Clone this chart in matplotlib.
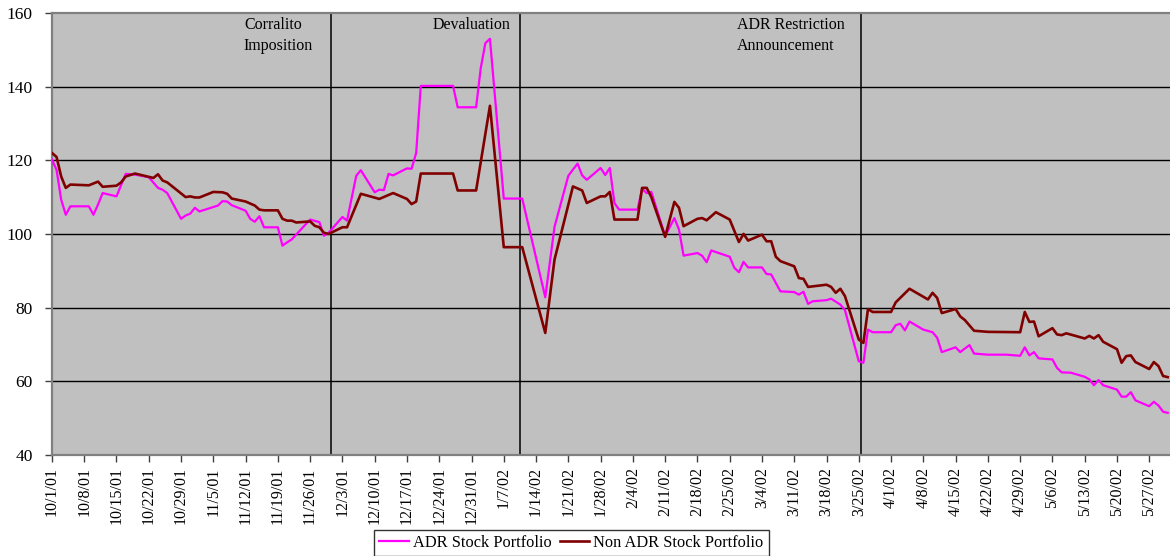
import datetime as dt
import pandas as pd
import matplotlib
matplotlib.use("Agg")
import matplotlib.pyplot as plt
import matplotlib.dates as mdates

# ---- data (index values) ----
adr_dates = [
    "10/1/01", "10/2/01", "10/3/01", "10/4/01", "10/5/01", "10/9/01", "10/10/01", "10/11/01",
    "10/12/01", "10/15/01", "10/17/01", "10/19/01", "10/22/01", "10/24/01", "10/25/01", "10/26/01",
    "10/29/01", "10/30/01", "10/31/01", "11/1/01", "11/2/01", "11/6/01", "11/7/01", "11/8/01",
    "11/9/01", "11/12/01", "11/13/01", "11/14/01", "11/15/01", "11/16/01", "11/19/01", "11/20/01",
    "11/21/01", "11/22/01", "11/26/01", "11/28/01", "11/29/01", "11/30/01", "12/3/01", "12/4/01",
    "12/6/01", "12/7/01", "12/10/01", "12/11/01", "12/12/01", "12/13/01", "12/14/01", "12/17/01",
    "12/18/01", "12/19/01", "12/20/01", "12/27/01", "12/28/01", "1/1/02", "1/2/02", "1/3/02",
    "1/4/02", "1/7/02", "1/11/02", "1/16/02", "1/18/02", "1/21/02", "1/23/02", "1/24/02",
    "1/25/02", "1/28/02", "1/29/02", "1/30/02", "1/31/02", "2/1/02", "2/5/02", "2/6/02",
    "2/7/02", "2/8/02", "2/11/02", "2/13/02", "2/14/02", "2/15/02", "2/18/02", "2/19/02",
    "2/20/02", "2/21/02", "2/25/02", "2/26/02", "2/27/02", "2/28/02", "3/1/02", "3/4/02",
    "3/5/02", "3/6/02", "3/8/02", "3/11/02", "3/12/02", "3/13/02", "3/14/02", "3/15/02",
    "3/18/02", "3/19/02", "3/21/02", "3/22/02", "3/25/02", "3/26/02", "3/27/02", "3/28/02",
    "4/1/02", "4/2/02", "4/3/02", "4/4/02", "4/5/02", "4/8/02", "4/10/02", "4/11/02",
    "4/12/02", "4/15/02", "4/16/02", "4/18/02", "4/19/02", "4/22/02", "4/26/02", "4/29/02",
    "4/30/02", "5/1/02", "5/2/02", "5/3/02", "5/6/02", "5/7/02", "5/8/02", "5/10/02",
    "5/13/02", "5/14/02", "5/15/02", "5/16/02", "5/17/02", "5/20/02", "5/21/02", "5/22/02",
    "5/23/02", "5/24/02", "5/27/02", "5/28/02", "5/29/02", "5/30/02", "5/31/02",
]
adr_values = [
    120.2, 117.4, 109.3, 105.2, 107.5, 107.5, 105.2, 108.0,
    111.1, 110.2, 116.3, 116.1, 115.4, 112.5, 112.0, 111.1,
    104.1, 105.0, 105.5, 107.1, 106.1, 107.7, 108.9, 108.8,
    107.8, 106.3, 104.1, 103.3, 104.8, 101.8, 101.8, 96.8,
    97.7, 98.5, 103.9, 103.2, 99.5, 100.3, 104.6, 103.6,
    115.8, 117.3, 111.3, 112.0, 111.9, 116.3, 115.9, 117.8,
    117.7, 122.0, 140.2, 140.2, 134.4, 134.4, 145.0, 151.8,
    153.0, 109.6, 109.6, 82.8, 101.9, 115.8, 119.1, 115.9,
    114.7, 117.9, 116.0, 117.9, 108.4, 106.6, 106.6, 112.2,
    111.1, 111.4, 99.4, 104.3, 101.2, 94.1, 94.8, 94.1,
    92.3, 95.5, 93.8, 90.8, 89.6, 92.4, 90.9, 90.9,
    89.1, 89.0, 84.4, 84.2, 83.5, 84.3, 81.0, 81.7,
    82.0, 82.4, 80.8, 79.3, 65.4, 65.0, 74.0, 73.3,
    73.3, 75.2, 75.6, 73.8, 76.2, 74.0, 73.3, 71.8,
    67.9, 69.2, 67.9, 69.8, 67.5, 67.2, 67.2, 66.9,
    69.2, 67.0, 67.9, 66.2, 65.9, 63.6, 62.4, 62.3,
    61.2, 60.5, 58.9, 60.3, 58.9, 57.7, 55.8, 55.8,
    57.0, 54.8, 53.2, 54.4, 53.4, 51.7, 51.4,
]

non_adr_dates = [
    "10/1/01", "10/2/01", "10/3/01", "10/4/01", "10/5/01", "10/9/01", "10/10/01", "10/11/01",
    "10/12/01", "10/15/01", "10/16/01", "10/17/01", "10/19/01", "10/23/01", "10/24/01", "10/25/01",
    "10/26/01", "10/30/01", "10/31/01", "11/1/01", "11/2/01", "11/5/01", "11/7/01", "11/8/01",
    "11/9/01", "11/12/01", "11/14/01", "11/15/01", "11/16/01", "11/19/01", "11/20/01", "11/21/01",
    "11/22/01", "11/23/01", "11/26/01", "11/27/01", "11/28/01", "11/29/01", "11/30/01", "12/3/01",
    "12/4/01", "12/7/01", "12/11/01", "12/14/01", "12/17/01", "12/18/01", "12/19/01", "12/20/01",
    "12/27/01", "12/28/01", "1/1/02", "1/4/02", "1/7/02", "1/11/02", "1/16/02", "1/18/02",
    "1/22/02", "1/24/02", "1/25/02", "1/28/02", "1/29/02", "1/30/02", "1/31/02", "2/5/02",
    "2/6/02", "2/7/02", "2/8/02", "2/11/02", "2/13/02", "2/14/02", "2/15/02", "2/18/02",
    "2/19/02", "2/20/02", "2/22/02", "2/25/02", "2/27/02", "2/28/02", "3/1/02", "3/4/02",
    "3/5/02", "3/6/02", "3/7/02", "3/8/02", "3/11/02", "3/12/02", "3/13/02", "3/14/02",
    "3/18/02", "3/19/02", "3/20/02", "3/21/02", "3/22/02", "3/25/02", "3/26/02", "3/27/02",
    "3/28/02", "4/1/02", "4/2/02", "4/5/02", "4/9/02", "4/10/02", "4/11/02", "4/12/02",
    "4/15/02", "4/16/02", "4/17/02", "4/19/02", "4/22/02", "4/29/02", "4/30/02", "5/1/02",
    "5/2/02", "5/3/02", "5/6/02", "5/7/02", "5/8/02", "5/9/02", "5/13/02", "5/14/02",
    "5/15/02", "5/16/02", "5/17/02", "5/20/02", "5/21/02", "5/22/02", "5/23/02", "5/24/02",
    "5/27/02", "5/28/02", "5/29/02", "5/30/02", "5/31/02",
]
non_adr_values = [
    122.0, 120.9, 115.6, 112.5, 113.4, 113.2, 113.7, 114.2,
    112.8, 113.1, 114.0, 115.6, 116.4, 115.2, 116.2, 114.5,
    114.0, 110.0, 110.2, 109.9, 109.9, 111.4, 111.3, 110.9,
    109.6, 108.8, 107.7, 106.6, 106.4, 106.4, 104.1, 103.6,
    103.6, 103.1, 103.4, 102.2, 101.8, 100.3, 100.0, 101.8,
    101.8, 110.9, 109.5, 111.1, 109.5, 108.1, 108.8, 116.4,
    116.4, 111.8, 111.8, 134.8, 96.4, 96.4, 73.1, 93.0,
    112.9, 111.8, 108.4, 110.2, 110.2, 111.4, 103.9, 103.9,
    112.5, 112.5, 110.0, 99.2, 108.7, 107.1, 102.1, 104.1,
    104.3, 103.7, 105.9, 103.9, 97.8, 100.0, 98.2, 99.8,
    98.0, 98.0, 93.8, 92.6, 91.2, 88.0, 87.8, 85.6,
    86.2, 85.6, 84.0, 85.1, 83.1, 71.3, 70.4, 79.6,
    78.8, 78.8, 81.4, 85.1, 82.2, 84.0, 82.6, 78.5,
    79.6, 77.6, 76.6, 73.7, 73.4, 73.3, 78.8, 76.1,
    76.2, 72.2, 74.4, 72.7, 72.5, 73.0, 71.6, 72.3,
    71.6, 72.5, 70.7, 68.7, 65.0, 66.8, 67.0, 65.2,
    63.3, 65.2, 64.1, 61.4, 61.1,
]

event_dates = ["11/30/01", "1/10/02", "3/25/02"]
event_labels = ["Corralito\nImposition", "Devaluation", "ADR Restriction\nAnnouncement"]

series_names = ["ADR Stock Portfolio", "Non ADR Stock Portfolio"]
series_colors = ["#FF00FF", "#800000"]

fmt = "%m/%d/%y"
adr_x = pd.to_datetime(adr_dates, format=fmt)
non_adr_x = pd.to_datetime(non_adr_dates, format=fmt)
events_x = pd.to_datetime(event_dates, format=fmt)

plt.rcParams["font.family"] = ["Liberation Serif", "DejaVu Serif"]

fig = plt.figure(figsize=(11.7, 5.56), dpi=100)
ax = fig.add_axes([0.0444, 0.182, 0.9556, 0.7946])
ax.set_facecolor("#C0C0C0")

# gridlines and event lines
for v in [60, 80, 100, 120, 140]:
    ax.axhline(v, color="black", lw=1.0, zorder=1)
for ex in events_x:
    ax.axvline(ex + pd.Timedelta(hours=12), color="black", lw=1.1, zorder=1)

ax.plot(adr_x, adr_values, color=series_colors[0], lw=1.6, label=series_names[0], zorder=3)
ax.plot(non_adr_x, non_adr_values, color=series_colors[1], lw=1.9, label=series_names[1], zorder=4)

ax.set_ylim(40, 160)
ax.set_yticks([40, 60, 80, 100, 120, 140, 160])
ax.set_xlim(dt.datetime(2001, 10, 1), dt.datetime(2002, 5, 31, 12))

ax.xaxis.set_major_locator(mdates.WeekdayLocator(byweekday=mdates.MO))


def date_label(v, pos):
    d = mdates.num2date(v)
    return "{}/{}/{}".format(d.month, d.day, d.strftime("%y"))


ax.xaxis.set_major_formatter(plt.FuncFormatter(date_label))

ax.tick_params(axis="x", direction="out", length=5, width=1, color="#404040", labelsize=11.5, pad=4)
ax.tick_params(axis="y", direction="out", length=5, width=1, color="#404040", labelsize=12.5, pad=9)
plt.setp(ax.get_xticklabels(), rotation=90, va="top", ha="center")

for side in ["left", "top", "bottom"]:
    ax.spines[side].set_color("#808080")
    ax.spines[side].set_linewidth(1.6)
ax.spines["right"].set_visible(False)

# event annotations
ax.text(0.1717, 0.992, event_labels[0], transform=ax.transAxes, ha="left", va="top",
        fontsize=11.5, linespacing=1.45)
ax.text(0.410, 0.992, event_labels[1], transform=ax.transAxes, ha="right", va="top",
        fontsize=11.5, linespacing=1.45)
ax.text(0.613, 0.992, event_labels[2], transform=ax.transAxes, ha="left", va="top",
        fontsize=11.5, linespacing=1.45)

leg = fig.legend(loc="upper center", bbox_to_anchor=(0.4885, 1 - 530 / 556), ncol=2,
                 frameon=True, fancybox=False, edgecolor="black", facecolor="white",
                 fontsize=11.8, handlelength=1.8, handletextpad=0.25, columnspacing=0.5,
                 borderpad=0.3, borderaxespad=0)
leg.get_frame().set_linewidth(1.0)

fig.savefig("out.png", dpi=100)
